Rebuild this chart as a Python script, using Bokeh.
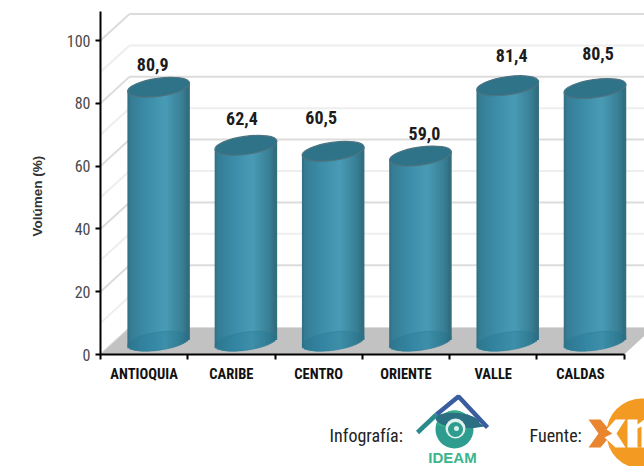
import numpy as np
from bokeh.plotting import figure
from bokeh.embed import file_html
from bokeh.resources import INLINE
from bokeh.layouts import column
from bokeh.models import Range1d, LinearAxis, FixedTicker, Title
from bokeh.core.properties import value

categories = ["ANTIOQUIA", "CARIBE", "CENTRO", "ORIENTE", "VALLE", "CALDAS"]
volumes = [80.9, 62.4, 60.5, 59.0, 81.4, 80.5]
y_ticks = [0, 20, 40, 60, 80, 100]
grid_levels = [0, 10, 20, 30, 40, 50, 60, 70, 80, 90, 100]

NARROW = "Roboto Condensed"
PX_X, PX_Y = 87.27, 3.14
DX, DY = 29 / PX_X, 26.5 / PX_Y
Y_MAX = 343 / PX_Y
X_MAX = 544 / PX_X

p = figure(width=644, height=388, frame_width=544, frame_height=343, output_backend="svg",
           toolbar_location=None, x_range=Range1d(0, X_MAX), y_range=Range1d(0, Y_MAX),
           min_border_left=100, min_border_right=0, min_border_top=11, min_border_bottom=34,
           x_axis_type=None, y_axis_type=None, outline_line_color=None)
p.grid.visible = False

# y axis
ya = LinearAxis(ticker=FixedTicker(ticks=y_ticks), bounds=(0, Y_MAX))
ya.axis_line_color = "black"; ya.axis_line_width = 2
ya.major_tick_line_color = "black"; ya.major_tick_line_width = 2
ya.major_tick_out = 5; ya.major_tick_in = 0
ya.minor_tick_line_color = None
ya.major_label_text_font = NARROW
ya.major_label_text_font_size = "16px"
ya.major_label_text_color = "#4a4a4a"
ya.major_label_standoff = 5
p.add_layout(ya, "left")

# y title, placed with an offset along the axis
p.add_layout(Title(text="Volúmen (%)", align="left", offset=118, standoff=34, vertical_align="top",
                   text_font="Liberation Sans", text_font_size="13.5px", text_font_style="bold",
                   text_color="#333333"), "left")

# x axis: labels at the category centres, ticks between categories
mids = [i + 0.5 for i in range(len(categories))]
edges = list(range(len(categories) + 1))
xa = LinearAxis(ticker=FixedTicker(ticks=mids, minor_ticks=edges), bounds=(0, len(categories)))
xa.major_label_overrides = {m: c for m, c in zip(mids, categories)}
xa.axis_line_color = "black"; xa.axis_line_width = 2
xa.major_tick_line_color = None
xa.major_tick_out = 4; xa.major_tick_in = 0
xa.minor_tick_line_color = "black"; xa.minor_tick_line_width = 2
xa.minor_tick_out = 5; xa.minor_tick_in = 0
xa.major_label_text_font = NARROW
xa.major_label_text_font_size = "14.5px"
xa.major_label_text_font_style = "bold"
xa.major_label_text_color = "#111111"
xa.major_label_standoff = 6
p.add_layout(xa, "below")

# back wall + side wall
lv = np.array(grid_levels, float)
cols = ["#dcdcdc" if v % 20 == 0 else "#eeeeee" for v in grid_levels]
p.multi_line([[DX, X_MAX + 1] for _ in lv], [[v + DY, v + DY] for v in lv], line_color=cols, line_width=2)
p.multi_line([[0, DX] for _ in lv], [[v, v + DY] for v in lv], line_color=cols, line_width=2)

# floor
n_cat = len(categories)
p.patch([0, n_cat, n_cat + DX, DX], [0, 0, DY, DY], fill_color="#c2c2c2", line_color=None)

# cylinders
W, H, TILT = 62.5, 18, 0.14
cx = np.array(mids) + DX / 2
vals = np.array(volumes)
n = 31
d = (np.arange(n) + 0.5) / n * (W - 1.5) - (W - 1.5) / 2
u = (d + W / 2) / W
stops = [0, .06, .3, .62, .9, 1]
shade_r = np.interp(u, stops, [0x2f, 0x36, 0x3c, 0x4a, 0x38, 0x30])
shade_g = np.interp(u, stops, [0x6a, 0x7c, 0x8c, 0x9c, 0x7e, 0x68])
shade_b = np.interp(u, stops, [0x7c, 0x94, 0xa8, 0xb6, 0x94, 0x78])
shades = ["#%02x%02x%02x" % (int(r), int(g), int(b)) for r, g, b in zip(shade_r, shade_g, shade_b)]
arc = (np.tan(TILT) * d - (H / 2) * np.sqrt(np.clip(1 - (2 * d / W) ** 2, 0, 1))) / PX_Y
mid = np.tan(TILT) * d / PX_Y
sx_all, top_all, bot_all, col_all = [], [], [], []
for c, v in zip(cx, vals):
    sx_all += list(c + d / PX_X)
    top_all += list(v + DY / 2 + mid)
    bot_all += list(DY / 2 + arc)
    col_all += shades
p.vbar(x=sx_all, width=((W - 1.5) / n + 1.5) / PX_X, top=top_all, bottom=bot_all, fill_color=col_all, line_color=None)

# translucent base and solid lid
p.ellipse(x=cx, y=[DY / 2] * n_cat, width=W, height=H, angle=TILT, width_units="screen", height_units="screen",
          fill_color="#1c6f8c", fill_alpha=0.28, line_color="#2d7f98", line_alpha=0.5)
p.ellipse(x=cx, y=vals + DY / 2, width=W, height=H, angle=TILT, width_units="screen", height_units="screen",
          fill_color="#2f7389", line_color="#4c7380", line_width=1.2)

# value labels
label_dx = [-6, -4, -12, 4, 4, 3]
label_dy = [-36, -40, -47, -36, -43, -48]
p.text(x=cx, y=vals, text=[f"{v:.1f}".replace(".", ",") for v in vals], x_offset=label_dx, y_offset=label_dy,
       text_align="center", text_baseline="middle", text_font=value(NARROW), text_font_style="bold",
       text_font_size="18px", text_color="#1c1c1c")

# footer with credits and logos; coordinates are page pixels
q = figure(width=644, height=78, frame_width=544, frame_height=78, output_backend="svg", toolbar_location=None,
           x_range=Range1d(100, 644), y_range=Range1d(466, 388), x_axis_type=None, y_axis_type=None,
           min_border=0, min_border_left=100, outline_line_color=None)
q.grid.visible = False
q.text(x=[329, 529], y=[435, 435], text=["Infografía:", "Fuente:"], text_font=value(NARROW), text_font_size="18px",
       text_baseline="middle", text_color="#222222")
# IDEAM
q.circle(x=[454], y=[429], radius=19, fill_color="#2f9c90", line_color=None)
q.wedge(x=[454], y=[429], radius=19, start_angle=0.2, end_angle=2.9, fill_color="#35ad8a", line_color=None)
q.ellipse(x=[457], y=[420], width=44, height=15, angle=-0.1, fill_color="#2b6f83", line_color=None)
q.patch([466, 484, 470], [413, 426, 428], fill_color="#2b6f83", line_color=None)
q.circle(x=[455], y=[428], radius=10, fill_color="#dff1ed", line_color=None)
q.circle(x=[455], y=[429], radius=7.5, fill_color="#2f9c90", line_color=None)
q.circle(x=[456], y=[428], radius=2.5, fill_color="#d8f0ea", line_color=None)
q.line([417, 436], [432, 414], line_color="#2a8a8c", line_width=4.5)
q.line([436, 458, 487], [414, 396, 427], line_color="#3a5da0", line_width=4.5)
q.text(x=[452], y=[456.5], text=["IDEAM"], text_font=value("Liberation Sans"), text_font_style="bold", text_font_size="15px",
       text_align="center", text_baseline="middle", text_color="#3ab58c")
# XM
q.circle(x=[641], y=[433], radius=35, fill_color="#f39a22", line_color=None)
q.patch([588, 600, 612, 600, 588, 598], [419, 419, 433, 447, 447, 433], fill_color="#e8852e", line_color=None)
q.patch([625, 615, 606, 612, 604, 615, 625, 616], [419, 419, 429, 433, 437, 447, 447, 433], fill_color="#ffffff", line_color=None)
q.patch([627, 637, 637, 644, 644, 627], [419, 419, 424, 419, 447, 447], fill_color="#ffffff", line_color=None)
q.patch([637, 641, 641, 637], [428, 426, 447, 447], fill_color="#f39a22", line_color=None)

page = column(p, q, spacing=0)
open("out.html", "w").write(file_html(page, INLINE))
